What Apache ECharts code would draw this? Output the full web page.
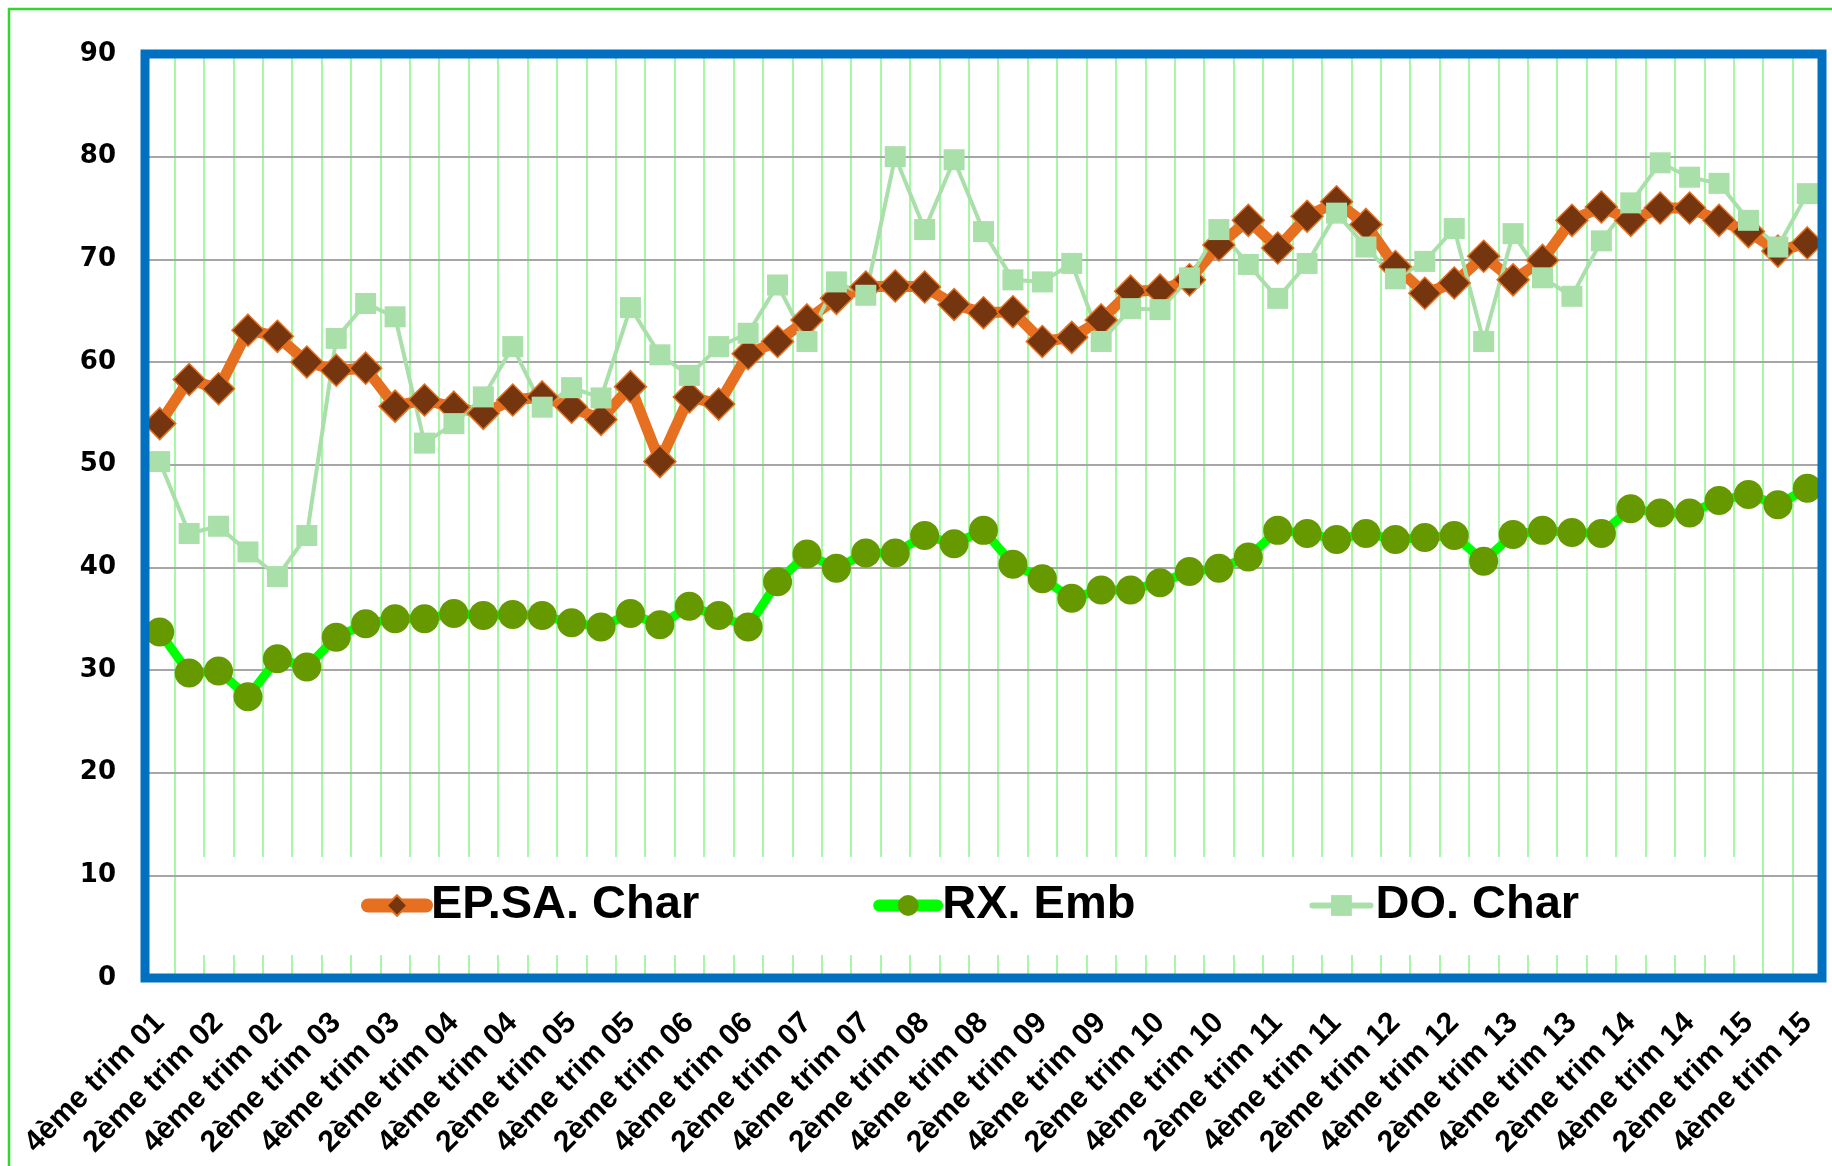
<!DOCTYPE html>
<html><head><meta charset="utf-8">
<script src="https://cdn.jsdelivr.net/npm/echarts@6/dist/echarts.min.js"></script>
<style>html,body{margin:0;padding:0;background:#fff}#c{width:1832px;height:1166px}</style>
</head><body><div id="c"></div>
<script>
const categories = [
  '4ème trim 01',
  '1er trim 02','2ème trim 02','3ème trim 02','4ème trim 02',
  '1er trim 03','2ème trim 03','3ème trim 03','4ème trim 03',
  '1er trim 04','2ème trim 04','3ème trim 04','4ème trim 04',
  '1er trim 05','2ème trim 05','3ème trim 05','4ème trim 05',
  '1er trim 06','2ème trim 06','3ème trim 06','4ème trim 06',
  '1er trim 07','2ème trim 07','3ème trim 07','4ème trim 07',
  '1er trim 08','2ème trim 08','3ème trim 08','4ème trim 08',
  '1er trim 09','2ème trim 09','3ème trim 09','4ème trim 09',
  '1er trim 10','2ème trim 10','3ème trim 10','4ème trim 10',
  '1er trim 11','2ème trim 11','3ème trim 11','4ème trim 11',
  '1er trim 12','2ème trim 12','3ème trim 12','4ème trim 12',
  '1er trim 13','2ème trim 13','3ème trim 13','4ème trim 13',
  '1er trim 14','2ème trim 14','3ème trim 14','4ème trim 14',
  '1er trim 15','2ème trim 15','3ème trim 15','4ème trim 15'
];
const seriesNames = ['EP.SA. Char', 'RX. Emb', 'DO. Char'];
const epsaChar = [54.0,58.3,57.4,63.1,62.5,60.0,59.2,59.4,55.7,56.3,55.6,55.0,56.3,56.6,55.6,54.4,57.6,50.3,56.6,
  55.9,60.8,62.0,64.1,66.2,67.3,67.4,67.3,65.6,64.8,64.9,62.0,62.4,64.1,66.9,67.0,68.0,71.4,73.8,71.1,
  74.2,75.6,73.4,69.3,66.7,67.7,70.3,68.0,69.9,73.8,75.1,73.8,75.0,75.0,73.8,72.7,70.8,71.6];
const rxEmb = [33.7,29.7,29.9,27.4,31.1,30.3,33.2,34.5,35.0,35.0,35.5,35.3,35.4,35.3,34.6,34.2,35.5,34.4,36.2,
  35.3,34.2,38.6,41.3,39.9,41.4,41.4,43.1,42.3,43.6,40.3,38.9,37.0,37.8,37.8,38.5,39.6,39.9,41.0,43.6,
  43.3,42.7,43.3,42.7,42.9,43.1,40.6,43.2,43.6,43.4,43.3,45.7,45.3,45.3,46.5,47.1,46.1,47.7];
const doChar = [50.3,43.3,44.0,41.5,39.1,43.1,62.3,65.7,64.4,52.1,54.0,56.6,61.5,55.6,57.5,56.5,65.3,60.7,58.7,
  61.5,62.8,67.5,62.0,67.8,66.5,80.0,72.9,79.7,72.7,68.0,67.8,69.6,62.0,65.2,65.1,68.2,72.9,69.5,66.2,
  69.6,74.5,71.2,68.1,69.8,73.0,62.0,72.5,68.2,66.4,71.8,75.5,79.4,78.0,77.4,73.8,71.2,76.4];

const chart = echarts.init(document.getElementById('c'), null, {renderer: 'canvas', width: 1832, height: 1166});
chart.setOption({
  backgroundColor: '#ffffff',
  animation: false,
  grid: {left: 145, right: 10, top: 54, bottom: 188, show: true, borderColor: '#0070C0', borderWidth: 9, backgroundColor: 'transparent', z: 6},
  xAxis: {
    type: 'category', data: categories, boundaryGap: true, z: 0,
    axisLine: {show: false}, axisTick: {show: false},
    splitLine: {show: true, interval: 0, lineStyle: {color: '#88F488', width: 1.5}},
    axisLabel: {interval: 1, rotate: 45, align: 'right', verticalAlign: 'middle', margin: 40,
      fontFamily: 'Liberation Sans', fontWeight: 'bold', fontSize: 30, color: '#000'}
  },
  yAxis: {
    type: 'value', min: 0, max: 90, interval: 10, z: 2,
    axisLine: {show: false}, axisTick: {show: false},
    splitLine: {show: true, lineStyle: {color: '#A6A6A6', width: 2}},
    axisLabel: {margin: 29, fontFamily: 'DejaVu Sans', fontWeight: 'bold', fontSize: 26, color: '#000'}
  },
  legend: {
    left: 361, top: 882, padding: 0, z: 8,
    itemWidth: 58, itemHeight: 26, itemGap: 174,
    textStyle: {fontFamily: 'Liberation Sans', fontWeight: 'bold', fontSize: 47, color: '#000'},
    data: [
      {name: seriesNames[0], lineStyle: {width: 14, cap: 'round'}},
      {name: seriesNames[1], lineStyle: {width: 12, cap: 'round'}},
      {name: seriesNames[2], lineStyle: {width: 6, cap: 'round'}}
    ]
  },
  graphic: [
    {type: 'rect', z: 1, silent: true, shape: {x: 190, y: 857, width: 1558, height: 98}, style: {fill: '#ffffff'}},
    {type: 'rect', z: 20, silent: true, shape: {x: 9, y: 9, width: 1900, height: 1300}, style: {fill: 'none', stroke: '#2ED82E', lineWidth: 2.5}}
  ],
  series: [
    {name: seriesNames[0], type: 'line', data: epsaChar, z: 3, showAllSymbol: true,
      symbol: 'diamond', symbolSize: 32,
      itemStyle: {color: '#74350F', borderColor: '#E6701F', borderWidth: 1.5},
      lineStyle: {color: '#E6701F', width: 11}},
    {name: seriesNames[1], type: 'line', data: rxEmb, z: 3, showAllSymbol: true,
      symbol: 'circle', symbolSize: 29,
      itemStyle: {color: '#669900'},
      lineStyle: {color: '#00FF00', width: 9}},
    {name: seriesNames[2], type: 'line', data: doChar, z: 3, showAllSymbol: true,
      symbol: 'rect', symbolSize: 21,
      itemStyle: {color: '#A9DFA9'},
      lineStyle: {color: '#A9DFA9', width: 4}}
  ]
});
</script></body></html>
